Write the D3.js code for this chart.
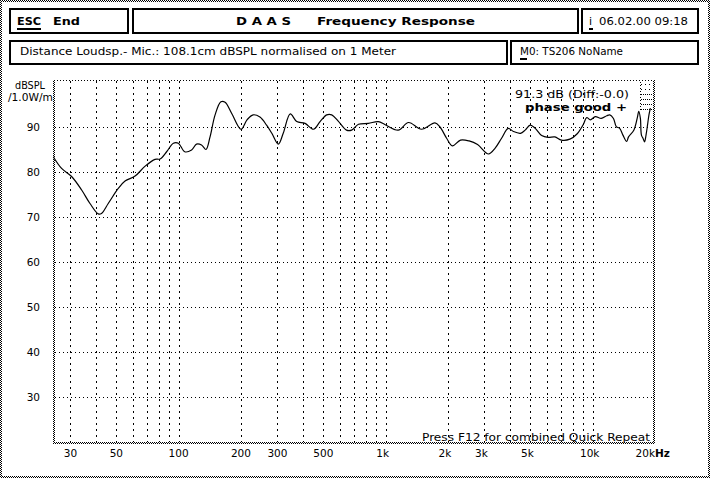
<!DOCTYPE html>
<html><head><meta charset="utf-8">
<script src="https://cdn.jsdelivr.net/npm/d3@7/dist/d3.min.js"></script>
<style>body{margin:0;background:#fff}svg{display:block}text{white-space:pre}</style>
</head><body>
<svg id="c" width="710" height="478"></svg>
<script>
// ---- data ----
const freqs = [24.8,27.2,30.4,34.0,37.3,40.9,42.4,45.7,51.2,55.1,61.6,68.9,76.9,81.3,87.5,94.3,99.7,107,115.5,122,129,135.6,141.8,150,160,167.6,180.5,200,214,229,247,266,282,303,320,346,372,408,448,482,519,549,590,647,685,739,825,922,995,1150,1290,1490,1730,1830,1970,2100,2300,2530,2780,3140,3380,3630,3910,4140,4480,4720,4990,5280,5670,6090,6570,7060,7760,8420,9020,9355,9750,10300,11000,11700,12100,12600,13000,13500,14000,14600,14900,15800,16400,16700,17000,17200,17500,17800,18100,18400,18700,19000];
const dbspl = [83.4,80.8,79.0,76.0,73.0,70.7,70.8,73.0,76.4,78.0,79.1,81.3,82.8,82.9,84.5,86.4,86.4,84.5,84.9,86.2,86.0,85.0,87.8,92.7,95.6,95.5,93.0,89.5,91.6,92.7,92.2,90.4,88.6,86.2,88.6,92.9,91.2,90.8,89.5,91.2,92.7,92.7,91.3,89.3,89.3,90.6,90.8,91.2,90.5,89.3,91.0,89.5,90.9,90.0,87.5,85.8,87.1,86.9,86.1,84.0,85.3,87.5,89.7,89.0,88.6,89.3,90.4,89.7,88.1,87.7,87.8,87.1,87.3,88.5,90.6,92.1,91.6,92.3,91.9,92.5,92.7,91.9,90.1,89.7,88.2,86.8,87.8,89.3,91.9,93.5,91.9,88.2,87.5,86.7,88.2,90.4,92.7,94.2];
const yTicks = [30,40,50,60,70,80,90];
const xGrid = [30,40,50,60,70,80,90,100,200,300,400,500,600,700,800,900,1000,2000,3000,4000,5000,6000,7000,8000,9000,10000];
const xLabelVals = [30,50,100,200,300,500,1000,2000,3000,5000,10000,20000];
const xLabelText = ["30","50","100","200","300","500","1k","2k","3k","5k","10k","20k"];

const svg = d3.select("#c");
const F = "'DejaVu Sans', sans-serif";
const defs = svg.append("defs");
const pat = defs.append("pattern").attr("id","dith").attr("width",2).attr("height",2).attr("patternUnits","userSpaceOnUse");
pat.append("rect").attr("x",0).attr("y",0).attr("width",1).attr("height",1).attr("fill","#000");
pat.append("rect").attr("x",1).attr("y",1).attr("width",1).attr("height",1).attr("fill","#000");

// outer dithered border
[[0,0,710,2],[0,476,710,2],[0,0,2,478],[708,0,2,478]].forEach(r=>
  svg.append("rect").attr("x",r[0]).attr("y",r[1]).attr("width",r[2]).attr("height",r[3]).attr("fill","url(#dith)"));

// header boxes
const boxes=[[10,9,118,24],[133,9,445,24],[582,9,116,24],[10,41,497,23],[511,41,187,23]];
boxes.forEach(b=>svg.append("rect").attr("x",b[0]).attr("y",b[1]).attr("width",b[2]).attr("height",b[3])
  .attr("fill","none").attr("stroke","#000").attr("stroke-width",2).attr("shape-rendering","crispEdges"));

function txt(x,y,s,opt={}){
  const t=svg.append("text").attr("x",x).attr("y",y).text(s)
    .attr("font-family",opt.family||F).attr("font-size",opt.size||10.5)
    .attr("font-weight",opt.bold?"bold":"normal").attr("fill","#000")
    .attr("text-anchor",opt.anchor||"start");
  if(opt.len){t.attr("textLength",opt.len).attr("lengthAdjust","spacingAndGlyphs");}
  return t;
}
function uline(x1,x2,y){svg.append("line").attr("x1",x1).attr("x2",x2).attr("y1",y).attr("y2",y).attr("stroke","#000").attr("stroke-width",1.5).attr("shape-rendering","crispEdges");}

txt(17,25,"ESC",{bold:true,size:11,len:24}); uline(17,41,29);
txt(53,25,"End",{bold:true,size:11,len:27});
txt(236,25,"D A A S",{bold:true,size:11,len:55});
txt(317,25,"Frequency Response",{bold:true,size:11,len:158});
txt(589,25,"i",{size:11}); uline(589,593,29);
txt(599,25,"06.02.00 09:18",{size:11,len:89});
txt(20,55,"Distance Loudsp.- Mic.: 108.1cm dBSPL normalised on 1 Meter",{size:10.5,len:376});
txt(520,55,"M0: TS206 NoName",{size:10.5,len:103}); uline(520,527,59);

// scales
const x = d3.scaleLog().domain([25,20000]).range([54,655]);
const y = d3.scaleLinear().domain([20,100]).range([442,82]);

// grid
const g = svg.append("g").attr("shape-rendering","crispEdges");
g.selectAll("line.v").data(xGrid).join("line")
  .attr("x1",d=>Math.round(x(d))+0.5).attr("x2",d=>Math.round(x(d))+0.5)
  .attr("y1",81).attr("y2",442).attr("stroke","#000").attr("stroke-width",1).attr("stroke-dasharray","2,4");
g.selectAll("line.h").data(yTicks).join("line")
  .attr("x1",55).attr("x2",653).attr("y1",d=>Math.round(y(d))+0.5).attr("y2",d=>Math.round(y(d))+0.5)
  .attr("stroke","#000").attr("stroke-width",1).attr("stroke-dasharray","1,3");
// top dotted border
g.append("line").attr("x1",54).attr("x2",655).attr("y1",80.5).attr("y2",80.5).attr("stroke","#000").attr("stroke-dasharray","1,2");
// axes frame (dithered)
svg.append("rect").attr("x",53).attr("y",80).attr("width",2).attr("height",364).attr("fill","url(#dith)");
svg.append("rect").attr("x",653).attr("y",80).attr("width",2).attr("height",364).attr("fill","url(#dith)");
svg.append("rect").attr("x",53).attr("y",442).attr("width",602).attr("height",2).attr("fill","url(#dith)");

// mini dotted scale at top right
[84,89,94,99,104,109].forEach((yy,i)=>
  g.append("line").attr("x1",641).attr("x2",652).attr("y1",yy+0.5).attr("y2",yy+0.5).attr("stroke","#000").attr("stroke-dasharray",i<2?"1,3":"1,1"));
g.append("line").attr("x1",640.5).attr("x2",640.5).attr("y1",82).attr("y2",112).attr("stroke","#000").attr("stroke-dasharray","1,2");

// y labels
txt(15,89,"dBSPL",{size:10.5,len:30});
txt(8,101,"/1.0W/m",{size:10.5,len:45});
svg.selectAll("text.yt").data(yTicks).join("text")
  .attr("x",40).attr("y",d=>y(d)+4).attr("text-anchor","end")
  .attr("font-family",F).attr("font-size",10.5).text(d=>d);

// x labels
svg.selectAll("text.xt").data(xLabelVals).join("text")
  .attr("x",(d,i)=> d>=20000 ? x(d) : (d>=1000 ? x(d)-3 : x(d))).attr("y",457)
  .attr("text-anchor",(d,i)=> d>=20000 ? "end" : "middle")
  .attr("font-family",F).attr("font-size",10.5)
  .text((d,i)=>xLabelText[i]);
txt(655,457,"Hz",{bold:true,size:10.5});

// curve
const pts = freqs.map((f,i)=>[f,dbspl[i]]);
const line = d3.line().x(d=>x(d[0])).y(d=>y(d[1])).curve(d3.curveCatmullRom.alpha(0.5));
svg.append("path").attr("d",line(pts)).attr("fill","none").attr("stroke","#000").attr("stroke-width",1.2);

// annotations
txt(515,98,"91.3 dB (Diff:-0.0)",{size:10.5,len:114});
txt(525,111,"phase good +",{bold:true,size:11,len:102});
txt(422,441,"Press F12 for combined Quick Repeat",{size:10.5,len:228});
</script>
</body></html>
